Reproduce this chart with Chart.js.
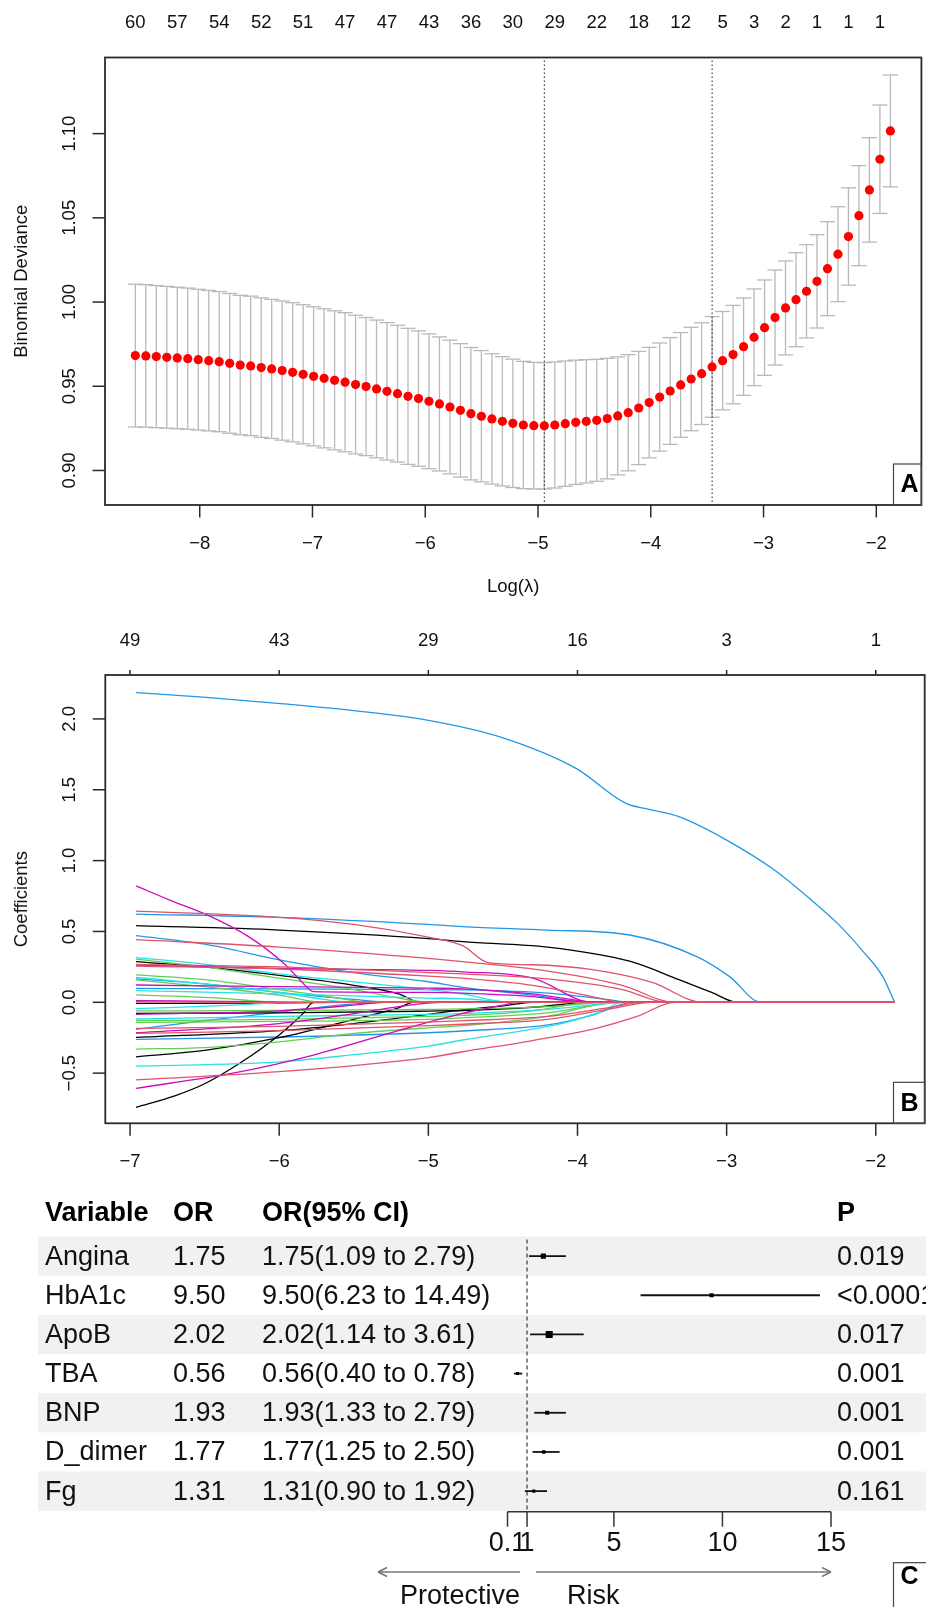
<!DOCTYPE html>
<html><head><meta charset="utf-8">
<script src="https://cdn.jsdelivr.net/npm/chart.js@4.4.1/dist/chart.umd.min.js"></script>
<style>
html,body{margin:0;padding:0;background:#fff;}
body{width:926px;height:1607px;position:relative;overflow:hidden;}
canvas{position:absolute;left:0;}
</style></head>
<body>
<canvas id="cA" width="926" height="600" style="top:0px"></canvas>
<canvas id="cB" width="926" height="580" style="top:600px"></canvas>
<canvas id="cC" width="926" height="427" style="top:1180px"></canvas>
<script>
// ---------------- Panel A data (CV binomial deviance) ----------------
const logLambdaA = [-8.571,-8.478,-8.385,-8.292,-8.199,-8.106,-8.013,-7.920,-7.827,-7.734,
 -7.641,-7.548,-7.455,-7.362,-7.269,-7.176,-7.083,-6.990,-6.897,-6.804,
 -6.711,-6.618,-6.525,-6.432,-6.339,-6.246,-6.153,-6.060,-5.967,-5.874,
 -5.781,-5.688,-5.595,-5.502,-5.409,-5.316,-5.223,-5.130,-5.037,-4.944,
 -4.851,-4.758,-4.665,-4.572,-4.479,-4.386,-4.293,-4.200,-4.107,-4.014,
 -3.921,-3.828,-3.735,-3.642,-3.549,-3.456,-3.363,-3.270,-3.177,-3.084,
 -2.991,-2.898,-2.805,-2.712,-2.619,-2.526,-2.433,-2.340,-2.247,-2.154,
 -2.061,-1.968,-1.875];
const cvmA = [0.9682,0.9680,0.9676,0.9672,0.9668,0.9664,0.9658,0.9652,0.9646,0.9636,
 0.9626,0.9621,0.9611,0.9603,0.9593,0.9583,0.9571,0.9559,0.9547,0.9535,
 0.9524,0.9510,0.9498,0.9484,0.9470,0.9456,0.9440,0.9427,0.9411,0.9395,
 0.9377,0.9357,0.9337,0.9322,0.9306,0.9292,0.9280,0.9270,0.9266,0.9265,
 0.9270,0.9278,0.9286,0.9292,0.9298,0.9308,0.9324,0.9343,0.9371,0.9403,
 0.9436,0.9472,0.9508,0.9543,0.9575,0.9615,0.9652,0.9688,0.9735,0.9791,
 0.9848,0.9908,0.9965,1.0014,1.0064,1.0123,1.0198,1.0284,1.0389,1.0513,
 1.0666,1.0848,1.1016];
const cvsdA = [0.0424,0.0423,0.0422,0.0421,0.0420,0.0419,0.0418,0.0417,0.0416,0.0415,
 0.0414,0.0414,0.0414,0.0413,0.0413,0.0413,0.0413,0.0413,0.0413,0.0413,
 0.0413,0.0412,0.0410,0.0409,0.0408,0.0406,0.0404,0.0402,0.0400,0.0398,
 0.0397,0.0396,0.0393,0.0390,0.0387,0.0384,0.0381,0.0378,0.0376,0.0375,
 0.0374,0.0372,0.0369,0.0366,0.0362,0.0358,0.0350,0.0345,0.0336,0.0328,
 0.0321,0.0317,0.0311,0.0307,0.0302,0.0299,0.0292,0.0292,0.0289,0.0287,
 0.0283,0.0282,0.0279,0.0279,0.0277,0.0277,0.0279,0.0282,0.0289,0.0297,
 0.0310,0.0322,0.0332];
const nzLabelsA = [60,57,54,52,51,47,47,43,36,30,29,22,18,12,5,3,2,1,1,1];
const nzIndexA  = [0,4,8,12,16,20,24,28,32,36,40,44,48,52,56,59,62,65,68,71];
const lambdaMinIdx = 39, lambda1seIdx = 55;
const ticksAx = [-8,-7,-6,-5,-4,-3,-2];
const ticksAy = [0.90,0.95,1.00,1.05,1.10];

// ---------------- Panel B data (coefficient paths, [logLambda, coef]) ----------------
const coefBlack = [
 [[-6.96,0.541],[-6.0,0.51],[-5.0,0.45],[-4.77,0.428],[-4.2,0.39],[-3.65,0.29],[-3.32,0.16],[-3.1,0.07],[-2.93,0],[-1.874,0]],
 [[-6.96,0.287],[-6.5,0.25],[-6.0,0.19],[-5.5,0.12],[-5.2,0.06],[-5.05,0],[-1.874,0]],
 [[-6.96,-0.008],[-6.2,-0.006],[-5.6,0],[-1.874,0]],
 [[-6.96,-0.078],[-6.0,-0.075],[-5.0,-0.062],[-4.77,-0.058],[-4.3,-0.035],[-3.9,0],[-1.874,0]],
 [[-6.96,-0.248],[-6.0,-0.2],[-5.5,-0.15],[-5.0,-0.085],[-4.77,-0.054],[-4.5,-0.025],[-4.3,0],[-1.874,0]],
 [[-6.96,-0.385],[-6.5,-0.34],[-6.0,-0.25],[-5.5,-0.12],[-5.2,-0.04],[-5.1,0],[-1.874,0]],
 [[-6.96,-0.741],[-6.7,-0.66],[-6.5,-0.575],[-6.25,-0.42],[-6.0,-0.23],[-5.85,-0.09],[-5.77,0],[-1.874,0]]
];
const coefPink = [
 [[-6.96,0.644],[-6.0,0.60],[-5.5,0.55],[-5.0,0.46],[-4.77,0.40],[-4.6,0.28],[-4.3,0.265],[-3.9,0.23],[-3.5,0.14],[-3.16,0],[-1.874,0]],
 [[-6.96,0.442],[-6.0,0.39],[-5.0,0.31],[-4.77,0.287],[-4.2,0.22],[-3.7,0.12],[-3.35,0],[-1.874,0]],
 [[-6.96,0.268],[-6.0,0.25],[-5.0,0.21],[-4.77,0.2],[-4.2,0.165],[-3.7,0.09],[-3.4,0],[-1.874,0]],
 [[-6.96,0.256],[-6.0,0.235],[-5.0,0.185],[-4.77,0.17],[-4.3,0.12],[-3.9,0.04],[-3.7,0],[-1.874,0]],
 [[-6.96,0.004],[-6.5,0.001],[-6.3,0],[-1.874,0]],
 [[-6.96,-0.184],[-6.0,-0.17],[-5.0,-0.14],[-4.77,-0.13],[-4.2,-0.1],[-3.8,-0.04],[-3.55,0],[-1.874,0]],
 [[-6.96,-0.22],[-6.0,-0.2],[-5.0,-0.165],[-4.77,-0.155],[-4.2,-0.12],[-3.8,-0.05],[-3.5,0],[-1.874,0]],
 [[-6.96,-0.548],[-6.0,-0.49],[-5.0,-0.39],[-4.77,-0.349],[-4.3,-0.27],[-3.875,-0.184],[-3.6,-0.1],[-3.35,0],[-1.874,0]]
];
const coefGreen = [
 [[-6.96,0.305],[-6.5,0.25],[-6.0,0.17],[-5.5,0.09],[-5.2,0.03],[-5.0,0],[-1.874,0]],
 [[-6.96,0.193],[-6.5,0.16],[-6.0,0.09],[-5.6,0.03],[-5.4,0],[-1.874,0]],
 [[-6.96,0.158],[-6.5,0.11],[-6.0,0.05],[-5.7,0],[-1.874,0]],
 [[-6.96,0.052],[-6.4,0.03],[-6.0,0],[-1.874,0]],
 [[-6.96,-0.061],[-6.0,-0.058],[-5.0,-0.05],[-4.77,-0.047],[-4.2,-0.03],[-3.75,0],[-1.874,0]],
 [[-6.96,-0.13],[-6.0,-0.12],[-5.0,-0.1],[-4.77,-0.092],[-4.3,-0.06],[-3.9,0],[-1.874,0]],
 [[-6.96,-0.141],[-6.0,-0.135],[-5.0,-0.12],[-4.77,-0.11],[-4.2,-0.075],[-3.7,0],[-1.874,0]],
 [[-6.96,-0.33],[-6.5,-0.32],[-6.0,-0.28],[-5.5,-0.22],[-5.0,-0.18],[-4.77,-0.165],[-4.2,-0.1],[-3.75,0],[-1.874,0]]
];
const coefBlue = [
 [[-6.96,2.186],[-6.49,2.152],[-6.01,2.11],[-5.5,2.058],[-5.0,1.99],[-4.51,1.87],[-4.01,1.651],[-3.675,1.404],[-3.52,1.362],[-3.32,1.31],[-3.0,1.145],[-2.68,0.934],[-2.43,0.72],[-2.25,0.55],[-2.09,0.365],[-1.953,0.181],[-1.874,0]],
 [[-6.96,0.623],[-6.0,0.60],[-5.0,0.55],[-4.77,0.534],[-4.2,0.51],[-3.65,0.475],[-3.2,0.322],[-2.98,0.181],[-2.77,0],[-1.874,0]],
 [[-6.96,0.47],[-6.5,0.41],[-6.0,0.30],[-5.5,0.21],[-5.0,0.145],[-4.77,0.106],[-4.3,0.05],[-3.92,0],[-1.874,0]],
 [[-6.96,0.165],[-6.5,0.13],[-6.0,0.07],[-5.5,0.02],[-5.2,0],[-1.874,0]],
 [[-6.96,0.098],[-6.0,0.095],[-5.0,0.09],[-4.77,0.088],[-4.2,0.065],[-3.8,0.02],[-3.65,0],[-1.874,0]],
 [[-6.96,-0.191],[-6.5,-0.13],[-6.0,-0.07],[-5.6,-0.02],[-5.3,0],[-1.874,0]],
 [[-6.96,-0.262],[-6.0,-0.245],[-5.0,-0.215],[-4.77,-0.2025],[-4.2,-0.16],[-3.9,-0.09],[-3.63,0],[-1.874,0]]
];
const coefCyan = [
 [[-6.96,0.315],[-6.5,0.27],[-6.0,0.2],[-5.0,0.09],[-4.77,0.06],[-4.45,0],[-1.874,0]],
 [[-6.96,0.176],[-6.5,0.13],[-6.0,0.07],[-5.7,0.02],[-5.5,0],[-1.874,0]],
 [[-6.96,0.082],[-6.0,0.06],[-5.0,0.03],[-4.77,0.025],[-4.4,0],[-1.874,0]],
 [[-6.96,-0.045],[-6.3,-0.02],[-5.9,0],[-1.874,0]],
 [[-6.96,-0.118],[-6.0,-0.1],[-5.0,-0.085],[-4.77,-0.08],[-4.2,-0.05],[-3.65,0],[-1.874,0]],
 [[-6.96,-0.451],[-6.0,-0.42],[-5.5,-0.37],[-5.0,-0.31],[-4.77,-0.266],[-4.1,-0.148],[-3.85,-0.07],[-3.7,0],[-1.874,0]]
];
const coefMagenta = [
 [[-6.96,0.821],[-6.73,0.72],[-6.49,0.62],[-6.2,0.46],[-5.97,0.275],[-5.86,0.157],[-5.77,0.075],[-5.0,0.07],[-4.77,0.065],[-4.3,0.04],[-3.92,0],[-1.874,0]],
 [[-6.96,0.262],[-6.0,0.24],[-5.0,0.225],[-4.77,0.215],[-4.3,0.17],[-3.9,0],[-1.874,0]],
 [[-6.96,0.122],[-6.0,0.11],[-5.0,0.1],[-4.77,0.095],[-4.3,0.06],[-3.85,0],[-1.874,0]],
 [[-6.96,0.011],[-6.2,0.005],[-5.8,0],[-1.874,0]],
 [[-6.96,-0.085],[-6.0,-0.06],[-5.5,-0.02],[-5.3,0],[-1.874,0]],
 [[-6.96,-0.215],[-6.0,-0.15],[-5.5,-0.08],[-5.2,-0.03],[-4.9,0],[-1.874,0]],
 [[-6.96,-0.607],[-6.31,-0.5],[-5.77,-0.372],[-5.19,-0.196],[-4.77,-0.078],[-4.5,-0.02],[-4.4,0],[-1.874,0]]
];
const ticksBx = [-7,-6,-5,-4,-3,-2];
const ticksBy = [-0.5,0,0.5,1,1.5,2];
const dfLabelsB = ['49','43','29','16','3','1'];

// ---------------- Panel C data (forest plot) ----------------
const forestVars = ['Angina','HbA1c','ApoB','TBA','BNP','D_dimer','Fg'];
const forestOR = [1.75,9.50,2.02,0.56,1.93,1.77,1.31];
const forestLo = [1.09,6.23,1.14,0.40,1.33,1.25,0.90];
const forestHi = [2.79,14.49,3.61,0.78,2.79,2.50,1.92];
const forestP  = ['0.019','<0.0001','0.017','0.001','0.001','0.001','0.161'];
const forestTicks = [0.1,1,5,10,15];
const forestTickLabels = ['0.1','1','5','10','15'];

// ---------------- helpers ----------------
const FONT = '"Liberation Sans", Arial, Helvetica, sans-serif';
const MINUS = '\u2212';
const fmt = (v, d) => (v < -1e-9 ? MINUS : '') + Math.abs(v).toFixed(d);
function drawText(ctx, s, x, y, o = {}) {
  ctx.save();
  ctx.font = `${o.weight || 'normal'} ${o.size || 18.5}px ${FONT}`;
  ctx.fillStyle = o.color || '#111';
  ctx.textAlign = o.align || 'center';
  ctx.textBaseline = o.baseline || 'middle';
  ctx.translate(x, y);
  if (o.rotate) ctx.rotate(o.rotate);
  ctx.fillText(s, 0, 0);
  ctx.restore();
}
function seg(ctx, x1, y1, x2, y2) { ctx.beginPath(); ctx.moveTo(x1, y1); ctx.lineTo(x2, y2); ctx.stroke(); }

function rFrame(chart, o) {
  const { ctx, chartArea: a, scales: { x, y } } = chart;
  ctx.save();
  ctx.strokeStyle = '#2a2a2a';
  ctx.lineWidth = 1.8;
  ctx.strokeRect(a.left, a.top, a.right - a.left, a.bottom - a.top);
  ctx.lineWidth = 1.5;
  o.xTicks.forEach(v => {
    const px = x.getPixelForValue(v);
    seg(ctx, px, a.bottom, px, a.bottom + 12.5);
    drawText(ctx, fmt(v, 0), px, a.bottom + 38.5, { size: 18.5 });
  });
  o.yTicks.forEach(v => {
    const py = y.getPixelForValue(v);
    seg(ctx, a.left, py, a.left - 12.5, py);
    drawText(ctx, fmt(v, o.yDec), a.left - 35, py, { size: 18.5, rotate: -Math.PI / 2 });
  });
  o.topLabels.forEach(t => {
    const px = x.getPixelForValue(t.v);
    if (o.topTick) seg(ctx, px, a.top, px, a.top - o.topTick);
    drawText(ctx, t.s, px, a.top - 34.5, { size: 18.5 });
  });
  drawText(ctx, o.yTitle, a.left - 83.5, (a.top + a.bottom) / 2, { size: 18.5, rotate: -Math.PI / 2 });
  if (o.xTitle) drawText(ctx, o.xTitle, (a.left + a.right) / 2, a.bottom + 82, { size: 18.5 });
  ctx.lineWidth = 1.2; ctx.strokeStyle = '#444';
  ctx.strokeRect(893.5, a.bottom - 41, a.right - 893.5, 41);
  drawText(ctx, o.letter, 909.5, a.bottom - 19.5, { size: 25, weight: 'bold', color: '#000' });
  ctx.restore();
}

const common = {
  responsive: false, animation: false, devicePixelRatio: 1, events: [],
  plugins: { legend: { display: false }, tooltip: { enabled: false } }
};

// ---------------- Panel A chart ----------------
const panelAPlugin = {
  id: 'panelA',
  beforeDatasetsDraw(chart) {
    const { ctx, chartArea: a, scales: { x, y } } = chart;
    ctx.save();
    ctx.strokeStyle = '#b9b9b9'; ctx.lineWidth = 1.3;
    const capW = 0.067;
    logLambdaA.forEach((l, i) => {
      const px = x.getPixelForValue(l);
      const up = y.getPixelForValue(cvmA[i] + cvsdA[i]);
      const lo = y.getPixelForValue(cvmA[i] - cvsdA[i]);
      const xl = x.getPixelForValue(l - capW), xr = x.getPixelForValue(l + capW);
      seg(ctx, px, up, px, lo);
      seg(ctx, xl, up, xr, up);
      seg(ctx, xl, lo, xr, lo);
    });
    ctx.strokeStyle = '#333'; ctx.lineWidth = 1.1; ctx.setLineDash([1.5, 2.5]);
    [lambdaMinIdx, lambda1seIdx].forEach(k => {
      const px = x.getPixelForValue(logLambdaA[k]);
      seg(ctx, px, a.top + 3, px, a.bottom - 3);
    });
    ctx.restore();
  },
  afterDraw(chart) {
    rFrame(chart, {
      xTicks: ticksAx, yTicks: ticksAy, yDec: 2,
      topLabels: nzIndexA.map((k, j) => ({ v: logLambdaA[k], s: String(nzLabelsA[j]) })),
      topTick: 0, yTitle: 'Binomial Deviance', xTitle: 'Log(\u03BB)', letter: 'A'
    });
  }
};
new Chart(document.getElementById('cA'), {
  type: 'scatter',
  data: { datasets: [{
    data: logLambdaA.map((l, i) => ({ x: l, y: cvmA[i] })),
    pointRadius: 4.6, pointBackgroundColor: '#ff0000', pointBorderWidth: 0, borderColor: '#ff0000'
  }] },
  options: Object.assign({}, common, {
    layout: { padding: { left: 105, top: 57.5, right: 1, bottom: 95 } },
    scales: {
      x: { type: 'linear', min: -8.84, max: -1.60, display: false },
      y: { type: 'linear', min: 0.8795, max: 1.1452, display: false }
    }
  }),
  plugins: [panelAPlugin]
});

// ---------------- Panel B chart ----------------
const coefGroups = [
  { paths: coefPink, color: '#DF536B' },
  { paths: coefMagenta, color: '#CD0BBC' },
  { paths: coefCyan, color: '#28E2E5' },
  { paths: coefGreen, color: '#61D04F' },
  { paths: coefBlack, color: '#000000' },
  { paths: coefBlue, color: '#2297E6' }
];
const dsB = [];
coefGroups.forEach(g => g.paths.forEach(p => dsB.push({
  data: p.map(q => ({ x: q[0], y: q[1] })),
  showLine: true, pointRadius: 0, borderColor: g.color, borderWidth: 1.3,
  cubicInterpolationMode: 'monotone', fill: false
})));
const panelBPlugin = {
  id: 'panelB',
  afterDraw(chart) {
    rFrame(chart, {
      xTicks: ticksBx, yTicks: ticksBy, yDec: 1,
      topLabels: ticksBx.map((v, j) => ({ v, s: dfLabelsB[j] })),
      topTick: 5, yTitle: 'Coefficients', xTitle: null, letter: 'B'
    });
  }
};
new Chart(document.getElementById('cB'), {
  type: 'scatter',
  data: { datasets: dsB },
  options: Object.assign({}, common, {
    layout: { padding: { left: 105.3, top: 75, right: 1.3, bottom: 56.7 } },
    scales: {
      x: { type: 'linear', min: -7.166, max: -1.672, display: false },
      y: { type: 'linear', min: -0.854, max: 2.310, display: false }
    }
  }),
  plugins: [panelBPlugin]
});

// ---------------- Panel C chart (forest plot) ----------------
const forestPlugin = {
  id: 'forest',
  beforeDatasetsDraw(chart) {
    const { ctx, chartArea: a, scales: { x, y } } = chart;
    const rowH = Math.abs(y.getPixelForValue(1) - y.getPixelForValue(0));
    ctx.save();
    ctx.fillStyle = '#eff2f1';
    forestVars.forEach((v, i) => {
      if (i % 2 === 0) ctx.fillRect(38, y.getPixelForValue(i) - rowH / 2, 926 - 38, rowH);
    });
    const hy = y.getPixelForValue(-1) - 3;
    const H = { size: 27, weight: 'bold', align: 'left', color: '#000' };
    drawText(ctx, 'Variable', 45, hy, H);
    drawText(ctx, 'OR', 173, hy, H);
    drawText(ctx, 'OR(95% CI)', 262, hy, H);
    drawText(ctx, 'P', 837, hy, H);
    const R = { size: 27, align: 'left', color: '#111' };
    forestVars.forEach((v, i) => {
      const py = y.getPixelForValue(i) + 1;
      drawText(ctx, v, 45, py, R);
      drawText(ctx, forestOR[i].toFixed(2), 173, py, R);
      drawText(ctx, `${forestOR[i].toFixed(2)}(${forestLo[i].toFixed(2)} to ${forestHi[i].toFixed(2)})`, 262, py, R);
      drawText(ctx, forestP[i], 837, py, R);
    });
    const rx = x.getPixelForValue(1);
    ctx.strokeStyle = '#555'; ctx.lineWidth = 1.4; ctx.setLineDash([4, 3]);
    seg(ctx, rx, a.top + 3, rx, a.bottom);
    ctx.setLineDash([]);
    ctx.strokeStyle = '#111'; ctx.lineWidth = 1.8;
    forestVars.forEach((v, i) => {
      const py = y.getPixelForValue(i);
      seg(ctx, x.getPixelForValue(forestLo[i]), py, x.getPixelForValue(forestHi[i]), py);
    });
    ctx.restore();
  },
  afterDraw(chart) {
    const { ctx, chartArea: a, scales: { x } } = chart;
    ctx.save();
    const ay = a.bottom + 1;
    ctx.strokeStyle = '#333'; ctx.lineWidth = 1.5;
    seg(ctx, x.getPixelForValue(forestTicks[0]), ay, x.getPixelForValue(forestTicks[forestTicks.length - 1]), ay);
    forestTicks.forEach((t, j) => {
      const px = x.getPixelForValue(t);
      seg(ctx, px, ay, px, ay + 15);
      drawText(ctx, forestTickLabels[j], px, ay + 32, { size: 27, color: '#111' });
    });
    const rx = x.getPixelForValue(1);
    const arY = a.bottom + 61.3;
    ctx.strokeStyle = '#777'; ctx.lineWidth = 1.5;
    const arrow = (x1, x2) => {
      seg(ctx, x1, arY, x2, arY);
      const d = x2 > x1 ? -1 : 1;
      seg(ctx, x2, arY, x2 + d * 9, arY - 4.5);
      seg(ctx, x2, arY, x2 + d * 9, arY + 4.5);
    };
    arrow(rx - 7, rx - 149);
    arrow(rx + 9, x.getPixelForValue(15));
    drawText(ctx, 'Protective', rx - 7, a.bottom + 86, { size: 27, align: 'right', color: '#111' });
    drawText(ctx, 'Risk', rx + 40, a.bottom + 86, { size: 27, align: 'left', color: '#111' });
    ctx.lineWidth = 1.2; ctx.strokeStyle = '#444';
    ctx.strokeRect(893.5, 382.7, 40, 60);
    drawText(ctx, 'C', 909.5, 397, { size: 25, weight: 'bold', color: '#000' });
    ctx.restore();
  }
};
new Chart(document.getElementById('cC'), {
  type: 'scatter',
  data: { datasets: [{
    data: forestOR.map((v, i) => ({ x: v, y: i })),
    pointStyle: 'rect', pointRadius: [3.6, 2.9, 5.0, 2.1, 2.9, 2.5, 2.2],
    pointBackgroundColor: '#000', pointBorderWidth: 0, borderColor: '#000'
  }] },
  options: Object.assign({}, common, {
    layout: { padding: { left: 507.5, top: 56.5, right: 95, bottom: 96.3 } },
    scales: {
      x: { type: 'linear', min: 0.1, max: 15, display: false },
      y: { type: 'linear', min: -0.5, max: 6.5, reverse: true, display: false }
    }
  }),
  plugins: [forestPlugin]
});
</script>
</body></html>
